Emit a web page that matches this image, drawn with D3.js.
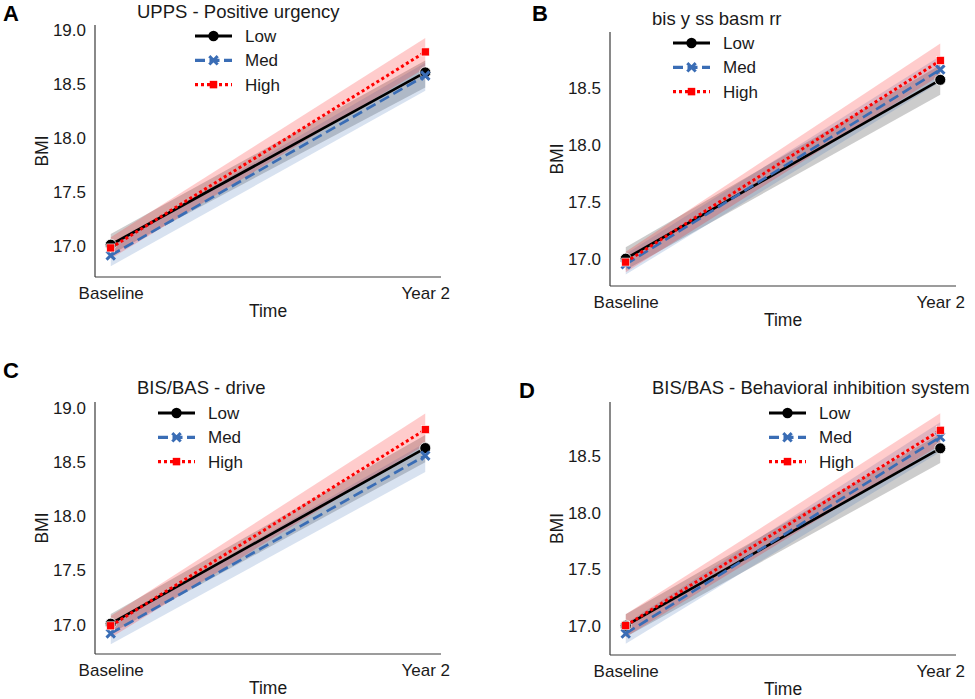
<!DOCTYPE html>
<html><head><meta charset="utf-8">
<script src="https://cdn.jsdelivr.net/npm/d3@7"></script>
<style>
html,body{margin:0;padding:0;background:#fff;}
svg{display:block;font-family:"Liberation Sans",Arial,sans-serif;}
</style></head><body>
<svg id="chart" width="975" height="699"></svg>
<script>
// ---------- data ----------
const times = ["Baseline", "Year 2"];
const groups = ["Low", "Med", "High"];
const panelLetters = ["A", "B", "C", "D"];
const panelTitles = ["UPPS - Positive urgency", "bis y ss basm rr", "BIS/BAS - drive", "BIS/BAS - Behavioral inhibition system"];
const yTicksA = [17.0, 17.5, 18.0, 18.5, 19.0];
const yTicksB = [17.0, 17.5, 18.0, 18.5];
const yTicksC = [17.0, 17.5, 18.0, 18.5, 19.0];
const yTicksD = [17.0, 17.5, 18.0, 18.5];

// means per group [Low, Med, High], each [Baseline, Year 2]
const meanA = [[17.01, 18.61], [16.91, 18.58], [16.98, 18.80]];
const lowerA = [[16.92, 18.47], [16.81, 18.44], [16.88, 18.65]];
const upperA = [[17.11, 18.72], [17.00, 18.70], [17.08, 18.93]];

const meanB = [[17.00, 18.57], [16.95, 18.66], [16.97, 18.74]];
const lowerB = [[16.90, 18.44], [16.86, 18.55], [16.88, 18.61]];
const upperB = [[17.10, 18.70], [17.04, 18.78], [17.06, 18.89]];

const meanC = [[17.01, 18.63], [16.92, 18.56], [16.99, 18.80]];
const lowerC = [[16.92, 18.50], [16.82, 18.41], [16.88, 18.66]];
const upperC = [[17.10, 18.75], [17.01, 18.68], [17.08, 18.95]];

const meanD = [[17.00, 18.57], [16.93, 18.67], [17.00, 18.73]];
const lowerD = [[16.90, 18.44], [16.84, 18.54], [16.90, 18.60]];
const upperD = [[17.10, 18.70], [17.02, 18.80], [17.10, 18.88]];

// ---------- layout / style ----------
const panels = [
  {left: 95, right: 441, top: 25, bottom: 277, ydom: [16.71, 19.05], ticks: yTicksA, mean: meanA, lo: lowerA, hi: upperA,
   titleY: 18, letterX: 3, letterY: 21, legX: 195},
  {left: 610, right: 956, top: 32, bottom: 286, ydom: [16.76, 18.99], ticks: yTicksB, mean: meanB, lo: lowerB, hi: upperB,
   titleY: 25, letterX: 532, letterY: 21, legX: 673},
  {left: 95, right: 441, top: 402, bottom: 654, ydom: [16.73, 19.055], ticks: yTicksC, mean: meanC, lo: lowerC, hi: upperC,
   titleY: 394, letterX: 3, letterY: 378, legX: 158},
  {left: 610, right: 956, top: 402, bottom: 655, ydom: [16.74, 18.98], ticks: yTicksD, mean: meanD, lo: lowerD, hi: upperD,
   titleY: 394, letterX: 519, letterY: 398, legX: 769}
];
const colors = {Low: "#000000", Med: "#3a6db5", High: "#ff0000"};
const dashes = {Low: null, Med: "10.5,5", High: "3,2.8"};
const legendDashes = {Low: null, Med: "10,4.5", High: "3,3"};

const svg = d3.select("#chart");

function drawMarker(g, grp, x, y, legend) {
  const c = colors[grp];
  if (grp === "Low") {
    g.append("circle").attr("cx", x).attr("cy", y).attr("r", legend ? 5.2 : 5.5)
      .attr("fill", c).attr("stroke", "#fff").attr("stroke-width", legend ? 0 : 0.8);
  } else if (grp === "Med") {
    const s = 4.2;
    g.append("path").attr("d", `M${x-s},${y-s}L${x+s},${y+s}M${x-s},${y+s}L${x+s},${y-s}`)
      .attr("stroke", c).attr("stroke-width", 3).attr("stroke-linecap", "butt").attr("fill", "none");
  } else {
    const s = legend ? 7.5 : 8;
    g.append("rect").attr("x", x - s/2).attr("y", y - s/2).attr("width", s).attr("height", s)
      .attr("fill", c).attr("stroke", legend ? "none" : "#fff").attr("stroke-width", 0.6);
  }
}

panels.forEach((p, pi) => {
  const g = svg.append("g");
  const x = d3.scaleLinear().domain([-0.05, 1.05]).range([p.left, p.right]);
  const y = d3.scaleLinear().domain(p.ydom).range([p.bottom, p.top]);

  // bands and lines
  groups.forEach((grp, gi) => {
    const pts = times.map((t, ti) => ({t: ti, m: p.mean[gi][ti], lo: p.lo[gi][ti], hi: p.hi[gi][ti]}));
    g.append("path").datum(pts)
      .attr("d", d3.area().x(d => x(d.t)).y0(d => y(d.lo)).y1(d => y(d.hi)))
      .attr("fill", colors[grp]).attr("fill-opacity", 0.2).attr("stroke", "none");
  });
  groups.forEach((grp, gi) => {
    const pts = times.map((t, ti) => ({t: ti, m: p.mean[gi][ti]}));
    g.append("path").datum(pts)
      .attr("d", d3.line().x(d => x(d.t)).y(d => y(d.m)))
      .attr("fill", "none").attr("stroke", colors[grp])
      .attr("stroke-width", grp === "High" ? 3 : 2.7)
      .attr("stroke-dasharray", dashes[grp]);
    pts.forEach(d => drawMarker(g, grp, x(d.t), y(d.m), false));
  });

  // axes (spines only, no tick marks)
  const ya = d3.axisLeft(y).tickValues(p.ticks).tickSize(0).tickPadding(9).tickFormat(d3.format(".1f"));
  const yg = g.append("g").attr("transform", `translate(${p.left},0)`).call(ya);
  yg.select(".domain").attr("d", `M0,${p.top}V${p.bottom}`).attr("stroke", "#3a3a3a").attr("stroke-width", 1.2);
  yg.selectAll("text").attr("font-size", 17).attr("fill", "#1a1a1a").attr("font-family", "Liberation Sans, Arial, sans-serif");

  const xa = d3.axisBottom(x).tickValues([0, 1]).tickSize(0).tickPadding(10).tickFormat(i => times[i]);
  const xg = g.append("g").attr("transform", `translate(0,${p.bottom})`).call(xa);
  xg.select(".domain").attr("d", `M${p.left},0H${p.right}`).attr("stroke", "#3a3a3a").attr("stroke-width", 1.2);
  xg.selectAll("text").attr("font-size", 17).attr("fill", "#1a1a1a").attr("font-family", "Liberation Sans, Arial, sans-serif");

  // axis labels
  g.append("text").attr("x", (p.left + p.right) / 2).attr("y", p.bottom + 40)
    .attr("text-anchor", "middle").attr("font-size", 17.5).attr("fill", "#1a1a1a").text("Time");
  g.append("text").attr("transform", `translate(${p.left - 47},${(p.top + p.bottom) / 2}) rotate(-90)`)
    .attr("text-anchor", "middle").attr("font-size", 17.5).attr("fill", "#1a1a1a").text("BMI");

  // title
  g.append("text").attr("x", p.left + 42).attr("y", p.titleY)
    .attr("font-size", 18.5).attr("fill", "#1a1a1a").text(panelTitles[pi]);

  // panel letter
  g.append("text").attr("x", p.letterX).attr("y", p.letterY)
    .attr("font-size", 22).attr("font-weight", "bold").attr("fill", "#000").text(panelLetters[pi]);

  // legend
  groups.forEach((grp, gi) => {
    const ly = p.top + 11 + gi * 24.3;
    g.append("line").attr("x1", p.legX).attr("x2", p.legX + 37).attr("y1", ly).attr("y2", ly)
      .attr("stroke", colors[grp]).attr("stroke-width", 3.2).attr("stroke-dasharray", legendDashes[grp]);
    drawMarker(g, grp, p.legX + 18.5, ly, true);
    g.append("text").attr("x", p.legX + 50).attr("y", ly + 6)
      .attr("font-size", 17).attr("fill", "#1a1a1a").text(grp);
  });
});
</script>
</body></html>
